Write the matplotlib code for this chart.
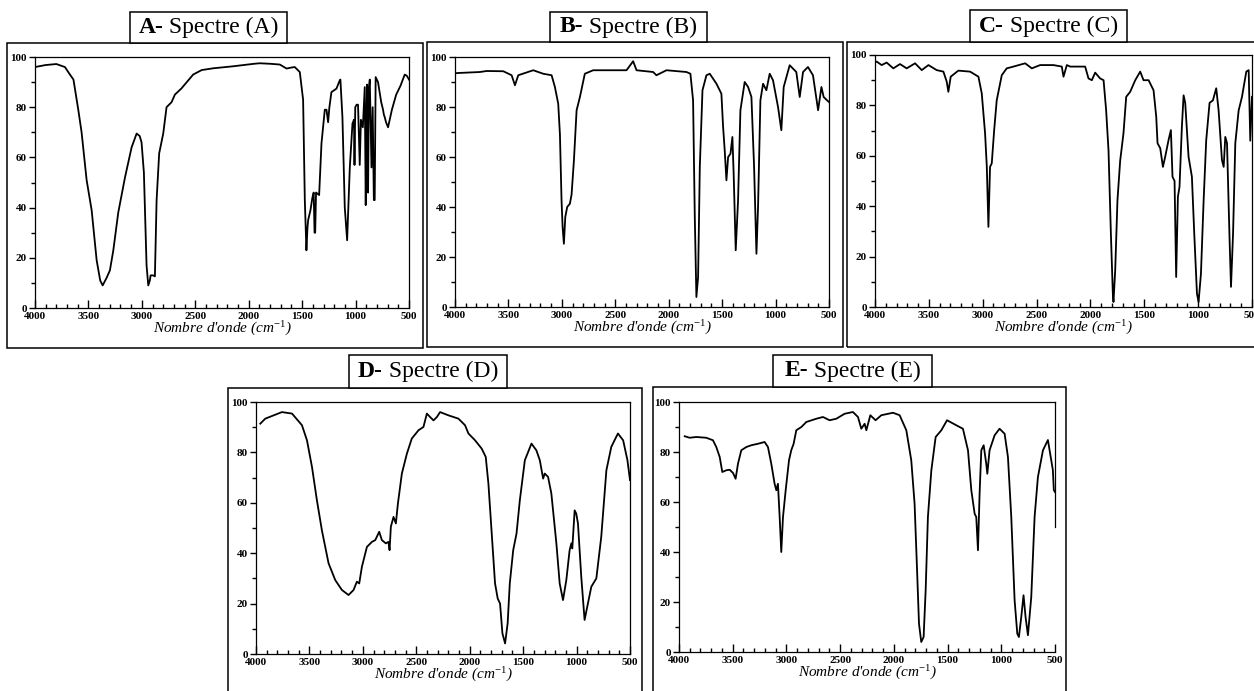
import matplotlib
matplotlib.use('Agg')
import matplotlib.pyplot as plt
from matplotlib.patches import Rectangle
from matplotlib.ticker import MultipleLocator

W, H = 1254, 691
plt.rcParams['font.family'] = ['Liberation Serif', 'DejaVu Serif']
plt.rcParams['mathtext.fontset'] = 'custom'
plt.rcParams['mathtext.rm'] = 'Liberation Serif'
plt.rcParams['mathtext.it'] = 'Liberation Serif:italic'

# spectrum A
a_wn = [4000, 3900, 3800, 3720, 3673, 3640, 3595, 3564, 3517, 3470, 3423, 3390, 3367, 3330,
        3299, 3267, 3221, 3158, 3096, 3049, 3020, 3003, 2981, 2956, 2940, 2925, 2918, 2894,
        2878, 2862, 2838, 2800, 2769, 2722, 2691, 2629, 2520, 2440, 2332, 2145, 1950, 1896,
        1800, 1709, 1646, 1600, 1569, 1522, 1491, 1475, 1460, 1450, 1444, 1422, 1404, 1392,
        1384, 1378, 1370, 1341, 1319, 1288, 1272, 1257, 1245, 1226, 1179, 1150, 1142, 1123,
        1101, 1079, 1054, 1029, 1015, 1010, 1003, 990, 977, 961, 950, 932, 914, 905, 898,
        892, 883, 875, 867, 851, 840, 829, 821, 812, 790, 760, 743, 735, 727, 715, 696, 660,
        620, 580, 540, 520, 500]
a_t = [96, 96.8, 97.2, 96, 93, 91, 79, 70, 51, 39, 19, 11, 9, 12,
       15, 23, 38, 52, 64, 69.5, 68.5, 66, 54, 17, 9, 11, 13, 13,
       12.6, 43, 61.6, 69.5, 80, 82, 85, 87.5, 93, 94.8, 95.5, 96.3, 97.3, 97.5,
       97.3, 97, 95.4, 95.8, 96, 94, 83, 43, 23, 32, 35, 39, 44, 46,
       30, 30, 46, 45, 65.6, 79, 79, 74, 80, 86, 87.4, 90.5, 91, 76,
       40, 27, 56, 73.5, 75, 57, 80, 81, 81, 57, 75, 72, 88, 41, 75,
       89, 46, 88, 91, 56, 80, 43, 43, 92, 90, 82, 79, 77, 76, 74, 72, 79,
       85, 88.5, 93, 92.5, 91]

# spectrum B
b_wn = [4000, 3969, 3766, 3704, 3548, 3470, 3439, 3408, 3268, 3174, 3096, 3065, 3034, 3018,
        3003, 2993, 2981, 2968, 2950, 2925, 2909, 2887, 2862, 2831, 2785, 2707, 2520, 2395,
        2333, 2301, 2146, 2115, 2021, 1834, 1797, 1772, 1756, 1741, 1725, 1709, 1684, 1647,
        1616, 1553, 1507, 1491, 1476, 1460, 1444, 1422, 1404, 1392, 1373, 1351, 1329, 1289,
        1257, 1226, 1201, 1179, 1164, 1142, 1117, 1086, 1055, 1024, 977, 946, 924, 868, 806,
        774, 743, 697, 650, 602, 571, 550, 519, 500]
b_t = [93.5, 93.6, 94, 94.4, 94.3, 92.7, 88.7, 92.7, 94.7, 93.3, 92.7, 88, 81.3, 69,
       42.7, 32, 25.3, 36, 40, 41.3, 45, 58.7, 78.7, 84, 93.3, 94.7, 94.7, 94.7,
       98.3, 94.7, 94, 92.7, 94.7, 94, 93.3, 82.7, 36, 4, 12, 56, 86.7, 92.7,
       93.3, 89.3, 85.3, 72, 62.7, 50.7, 60, 61.3, 68, 53, 22.7, 42.7, 78.7, 90,
       88, 84, 56, 21.3, 40, 82.7, 89.3, 86.7, 93.3, 90.7, 80, 70.7, 88, 96.7, 94,
       84, 94, 96, 92.7, 78.7, 88, 84, 82.7, 82]

# spectrum C
c_wn = [4000, 3985, 3938, 3892, 3830, 3768, 3706, 3628, 3566, 3504, 3427, 3365, 3334, 3319,
        3297, 3226, 3117, 3040, 3009, 2978, 2962, 2947, 2932, 2916, 2894, 2870, 2823, 2777,
        2715, 2606, 2544, 2467, 2343, 2266, 2250, 2219, 2188, 2049, 2018, 1987, 1956, 1910,
        1878, 1854, 1832, 1810, 1792, 1786, 1770, 1749, 1724, 1693, 1668, 1631, 1584, 1538,
        1507, 1460, 1414, 1389, 1377, 1352, 1327, 1306, 1275, 1253, 1238, 1219, 1204, 1188,
        1173, 1151, 1135, 1120, 1089, 1058, 1036, 1011, 996, 974, 949, 925, 894, 863, 832,
        810, 779, 763, 748, 732, 708, 695, 676, 655, 624, 593, 553, 531, 516, 500]
c_t = [97, 97.4, 96, 97, 94.7, 96.4, 94.7, 96.7, 94, 96, 94, 93.4, 89.4, 85.4,
       91.4, 93.8, 93.4, 91.4, 84.8, 68.9, 55.6, 31.8, 55.6, 57, 70, 82, 92, 94.7,
       95.4, 96.7, 94.7, 96, 96, 95.4, 91.4, 96, 95.4, 95.4, 90.7, 90, 93, 90.7,
       90, 78, 62, 29, 5.3, 2, 14.6, 42.4, 58, 69, 83.4, 85.4, 90, 93.4,
       90, 90, 86, 75.5, 65, 63, 55.6, 59.6, 66.2, 70.2, 51.7, 50, 11.9, 43.7,
       47.7, 71.5, 84, 81, 59.6, 51.7, 29, 5.3, 2, 13.2, 42.4, 66.2, 81, 82, 86.8,
       78, 58.3, 55.6, 67.5, 65, 26.5, 8, 29, 65, 78, 83.4, 93.4, 94, 66, 83.4]

# spectrum D
d_wn = [3960, 3913, 3835, 3757, 3663, 3570, 3523, 3476, 3430, 3383, 3321, 3258, 3196, 3134,
        3087, 3056, 3034, 3009, 2962, 2915, 2884, 2847, 2822, 2785, 2760, 2750, 2738, 2713,
        2691, 2672, 2635, 2588, 2542, 2479, 2433, 2401, 2370, 2339, 2308, 2277, 2199, 2106,
        2044, 2012, 1950, 1888, 1850, 1825, 1794, 1763, 1738, 1716, 1694, 1669, 1645, 1625,
        1593, 1562, 1531, 1484, 1422, 1376, 1344, 1313, 1298, 1267, 1236, 1189, 1158, 1127,
        1096, 1065, 1049, 1040, 1018, 1003, 987, 956, 925, 894, 862, 815, 769, 721, 675,
        613, 564, 524, 500]
d_t = [91.4, 93.4, 94.7, 96, 95.4, 90.8, 84.8, 74.2, 61, 49, 36, 29.3, 25.4, 23.4,
       25.4, 28.7, 28, 34.6, 42.5, 44.5, 45.2, 48.5, 45.2, 43.9, 44.5, 41.2, 50.5, 54.4,
       51.8, 59.7, 71.6, 79.5, 85.5, 88.8, 90.1, 95.4, 94, 92.7, 94, 96, 94.7, 93.4,
       90.8, 87.5, 84.8, 81.5, 78.2, 67.6, 47.8, 28, 22, 20, 8.2, 4.2, 12.2, 28,
       41.2, 47.8, 61, 76.9, 83.5, 80.8, 76.9, 69.6, 71.6, 70.3, 63.7, 43.9, 28, 21.4,
       29.3, 41.2, 43.9, 41.9, 57, 55.7, 51.8, 30.6, 13.5, 20, 26.7, 30, 46.5, 72.9, 82.2,
       87.5, 84.8, 76.9, 69]

# spectrum E
e_wn = [3947, 3901, 3839, 3746, 3684, 3653, 3621, 3597, 3559, 3528, 3497, 3473, 3451, 3420,
        3373, 3327, 3265, 3203, 3172, 3141, 3110, 3094, 3079, 3063, 3048, 3032, 3007, 2976,
        2955, 2933, 2908, 2861, 2815, 2722, 2660, 2598, 2536, 2458, 2381, 2334, 2303, 2272,
        2256, 2219, 2170, 2117, 2008, 1946, 1884, 1838, 1807, 1785, 1766, 1745, 1723, 1704,
        1683, 1651, 1611, 1558, 1505, 1419, 1357, 1310, 1279, 1248, 1233, 1217, 1202, 1186,
        1164, 1140, 1130, 1109, 1062, 1016, 969, 938, 907, 876, 851, 836, 814, 793, 774,
        752, 721, 690, 659, 612, 566, 520, 511, 500]
e_t = [86.3, 85.7, 86, 85.7, 84.7, 82, 78, 72, 72.7, 72.9, 71.6, 69.3, 75.3, 80.7,
       82, 82.7, 83.3, 84, 82, 75.3, 67.3, 64.7, 67.3, 54, 40, 54, 64.7, 76.7,
       80.7, 83.3, 88.7, 90, 92, 93.3, 94, 92.7, 93.3, 95.3, 96, 94, 89.3, 91.3,
       88.7, 94.7, 92.7, 94.7, 95.7, 94.7, 88.7, 76.7, 59.3, 34, 11.3, 4, 6, 24.7,
       54, 72.7, 86, 88.7, 92.7, 90.7, 89.3, 80.7, 64.7, 55.3, 54, 40.7, 63.3, 80.7,
       82.7, 75.3, 71.3, 80.7, 86.7, 89.3, 87.3, 78, 54, 20.7, 7.3, 6, 14, 22.7, 14,
       6.7, 22, 54, 70, 80.7, 84.8, 72.8, 64.8, 64]

letters = ['A', 'B', 'C', 'D', 'E']
spectra = [(a_wn, a_t), (b_wn, b_t), (c_wn, c_t), (d_wn, d_t), (e_wn, e_t)]

# pixel boxes: axes, outer frame, title frame  (x0, y0, x1, y1)
ax_px = [(35, 57, 409, 308), (455, 57, 829, 307), (875, 55, 1252, 307),
         (256, 402, 630, 654), (679, 402, 1055, 652)]
outer_px = [(7, 43, 423, 348), (427, 42, 843, 347), (847, 42, 1262, 347),
            (228, 388, 642, 700), (653, 387, 1066, 700)]
title_px = [(130, 12, 287, 43), (550, 12, 707, 42), (970, 10, 1127, 42),
            (349, 355, 507, 388), (773, 355, 932, 387)]


def fig_rect(box):
    x0, y0, x1, y1 = box
    return (x0 / W, 1 - y1 / H, (x1 - x0) / W, (y1 - y0) / H)


fig = plt.figure(figsize=(W / 100, H / 100), dpi=100)
renderer = fig.canvas.get_renderer()

for i, letter in enumerate(letters):
    wn, t = spectra[i]

    l, b, w, h = fig_rect(outer_px[i])
    fig.patches.append(Rectangle((l, b), w, h, transform=fig.transFigure,
                                 fill=False, ec='black', lw=1.1, zorder=1))

    ax = fig.add_axes(fig_rect(ax_px[i]))
    ax.set_facecolor('none')
    ax.plot(wn, t, color='black', lw=1.3)
    ax.set_xlim(4000, 500)
    ax.set_ylim(0, 100)
    ax.xaxis.set_major_locator(MultipleLocator(500))
    ax.xaxis.set_minor_locator(MultipleLocator(100))
    ax.yaxis.set_major_locator(MultipleLocator(20))
    ax.yaxis.set_minor_locator(MultipleLocator(10))
    ax.tick_params(axis='x', which='major', direction='in', length=6, width=1, pad=3)
    ax.tick_params(axis='x', which='minor', direction='in', length=3, width=1)
    ax.tick_params(axis='y', which='major', direction='out', length=4, width=1, pad=2)
    ax.tick_params(axis='y', which='minor', direction='out', length=3, width=1)
    for lab in ax.get_xticklabels() + ax.get_yticklabels():
        lab.set_fontsize(8)
        lab.set_fontweight('bold')
    for sp in ax.spines.values():
        sp.set_linewidth(0.9)
    if letter == 'E':
        ax.spines['right'].set_bounds(50, 100)
    ax.set_xlabel("Nombre d'onde (cm$^{-1}$)", fontsize=11, style='italic', labelpad=-1)

    # title frame with bold letter
    l, b, w, h = fig_rect(title_px[i])
    fig.patches.append(Rectangle((l, b), w, h, transform=fig.transFigure,
                                 fc='white', ec='black', lw=1.1, zorder=2))
    cy = b + h / 2
    cx = (title_px[i][0] + title_px[i][2]) / 2
    t1 = fig.text(0, cy, letter + '-', fontsize=17, fontweight='bold', va='center', ha='left', zorder=3)
    t2 = fig.text(0, cy, ' Spectre (' + letter + ')', fontsize=17, va='center', ha='left', zorder=3)
    w1 = t1.get_window_extent(renderer).width
    w2 = t2.get_window_extent(renderer).width
    xs = cx - (w1 + w2) / 2
    t1.set_x(xs / W)
    t2.set_x((xs + w1) / W)

fig.savefig('out.png', dpi=100)
